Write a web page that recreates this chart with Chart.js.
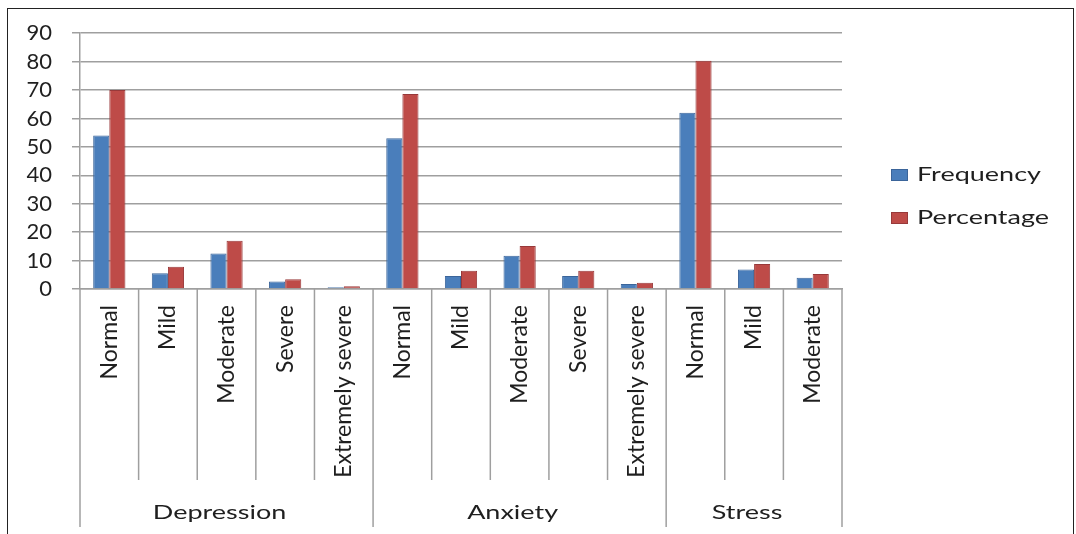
<!DOCTYPE html>
<html>
<head>
<meta charset="utf-8">
<script src="https://cdn.jsdelivr.net/npm/chart.js@4"></script>
<style>
  html, body { margin: 0; padding: 0; background: #fff; }
  #wrap { position: relative; width: 1076px; height: 534px; overflow: hidden; }
  #chart { position: absolute; left: 0; top: 0; }
  #frame { position: absolute; left: 7px; top: 8px; width: 1067px; height: 600px; border: 1.5px solid #222; box-sizing: border-box; }
</style>
</head>
<body>
<div id="wrap">
  <canvas id="chart" width="1076" height="534"></canvas>
  <div id="frame"></div>
</div>
<script>
var categories = ["Normal", "Mild", "Moderate", "Severe", "Extremely severe",
                  "Normal", "Mild", "Moderate", "Severe", "Extremely severe",
                  "Normal", "Mild", "Moderate"];
var groups = ["Depression", "Anxiety", "Stress"];
var groupSizes = [5, 5, 3];
var frequency = [54, 5.5, 12.5, 2.6, 0.6, 53, 4.6, 11.7, 4.6, 1.8, 62, 6.9, 4];
var percentage = [70, 7.8, 17, 3.4, 1, 68.6, 6.4, 15.1, 6.4, 2.2, 80.3, 8.8, 5.3];
var seriesNames = ["Frequency", "Percentage"];
var yMin = 0, yMax = 90, yStep = 10;

var FONT = "Lato, 'Liberation Sans', sans-serif";
var TEXT = "#1f1f1f";
var GRID = "#9f9f9f";
var blue = "#4a7ebb", blueEdge = "#3b659a";
var red = "#be4b48", redEdge = "#98393a";

// the source picture is stretched sideways, so flat text gets widened a bit
function wideText(ctx, text, x, y, align) {
  ctx.save();
  ctx.translate(x, y);
  ctx.scale(1.35, 1);
  ctx.textAlign = align;
  ctx.fillText(text, 0, 0);
  ctx.restore();
}

// separators + group names under the category labels
var groupAxis = {
  id: "groupAxis",
  afterDraw: function(chart) {
    var ctx = chart.ctx;
    var xs = chart.scales.x;
    var half = (xs.getPixelForValue(1) - xs.getPixelForValue(0)) / 2;
    var bottom = chart.chartArea.bottom;
    var edges = [0];
    var acc = 0;
    for (var g = 0; g < groupSizes.length; g++) { acc += groupSizes[g]; edges.push(acc); }

    ctx.save();
    ctx.strokeStyle = GRID;
    ctx.lineWidth = 1.5;
    for (var i = 0; i <= categories.length; i++) {
      var x = i < categories.length ? xs.getPixelForValue(i) - half : xs.getPixelForValue(i - 1) + half;
      var y2 = edges.indexOf(i) >= 0 ? 527 : 480;
      ctx.beginPath();
      ctx.moveTo(x, bottom);
      ctx.lineTo(x, y2);
      ctx.stroke();
    }

    ctx.fillStyle = TEXT;
    ctx.font = "20px " + FONT;
    ctx.textBaseline = "middle";
    for (var k = 0; k < groups.length; k++) {
      var a = xs.getPixelForValue(edges[k]) - half;
      var b = xs.getPixelForValue(edges[k + 1] - 1) + half;
      wideText(ctx, groups[k], (a + b) / 2 - 7, 513, "center");
    }
    ctx.restore();
  }
};

// legend on the right, drawn like the excel key
var sideLegend = {
  id: "sideLegend",
  afterDraw: function(chart) {
    var ctx = chart.ctx;
    var rows = [175, 218];
    ctx.save();
    ctx.font = "20px " + FONT;
    ctx.textBaseline = "middle";
    chart.data.datasets.forEach(function(ds, i) {
      ctx.fillStyle = ds.backgroundColor;
      ctx.fillRect(891, rows[i] - 6, 17, 12);
      ctx.strokeStyle = ds.borderColor;
      ctx.lineWidth = 1;
      ctx.strokeRect(891.5, rows[i] - 5.5, 16, 11);
      ctx.fillStyle = TEXT;
      wideText(ctx, ds.label, 917, rows[i], "left");
    });
    ctx.restore();
  }
};

new Chart(document.getElementById("chart"), {
  type: "bar",
  data: {
    labels: categories,
    datasets: [{
      label: seriesNames[0],
      data: frequency,
      backgroundColor: blue,
      borderColor: blueEdge,
      borderWidth: 1
    }, {
      label: seriesNames[1],
      data: percentage,
      backgroundColor: red,
      borderColor: redEdge,
      borderWidth: 1
    }]
  },
  options: {
    responsive: false,
    animation: false,
    devicePixelRatio: 1,
    categoryPercentage: 0.55,
    barPercentage: 1.0,
    layout: { padding: { top: 33, right: 234, left: 0, bottom: 0 } },
    plugins: {
      legend: { display: false },
      tooltip: { enabled: false }
    },
    scales: {
      x: {
        grid: { display: false },
        border: { display: true, color: GRID, width: 1.5 },
        ticks: {
          autoSkip: false,
          maxRotation: 90,
          minRotation: 90,
          padding: 8,
          color: TEXT,
          font: { family: FONT, size: 23 }
        },
        afterFit: function(scale) { scale.height = 245; }
      },
      y: {
        min: yMin,
        max: yMax,
        ticks: {
          stepSize: yStep,
          autoSkip: false,
          padding: 20,
          color: TEXT,
          font: { family: FONT, size: 22 }
        },
        grid: { color: GRID, lineWidth: 1.5, tickLength: 8 },
        border: { display: true, color: GRID, width: 1.5 },
        afterFit: function(scale) { scale.width = 80; }
      }
    }
  },
  plugins: [groupAxis, sideLegend]
});
</script>
</body>
</html>
